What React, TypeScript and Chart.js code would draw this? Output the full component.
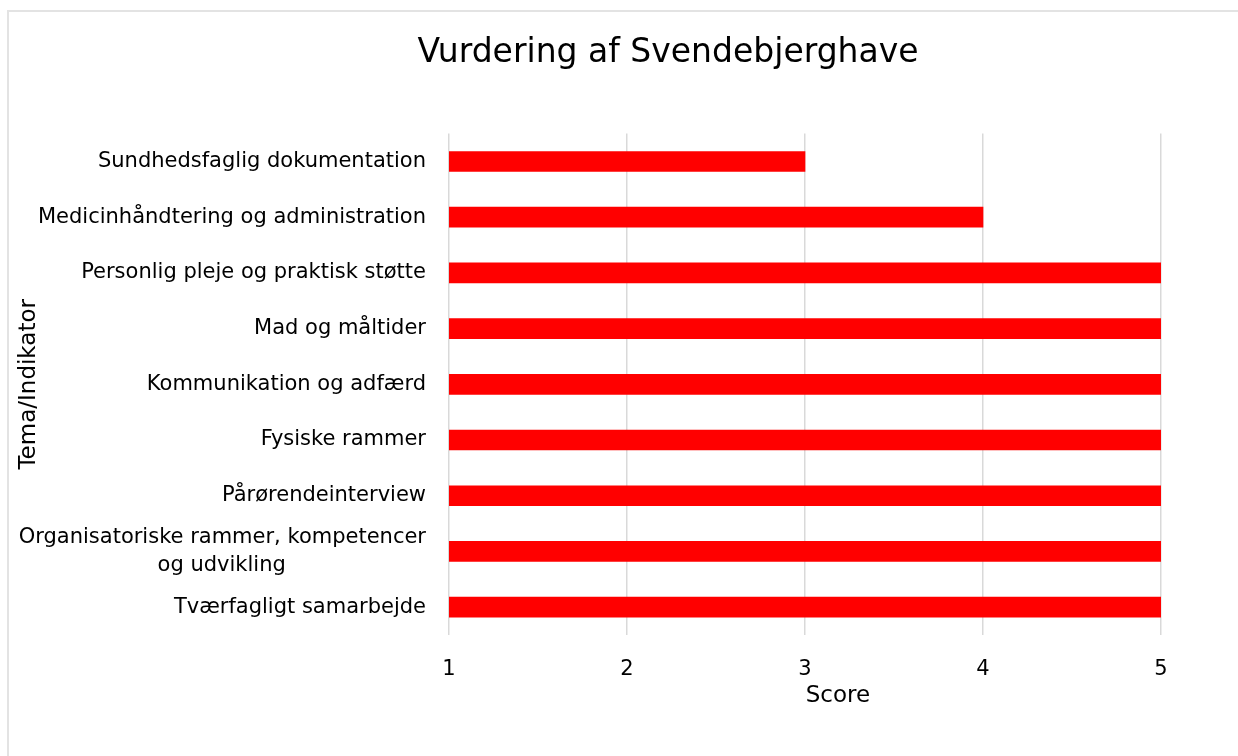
import React, { useEffect, useRef } from "react";
import { Chart, registerables } from "chart.js";

Chart.register(...registerables);

const chartTitle = "Vurdering af Svendebjerghave";
const categories: (string | string[])[] = [
  "Sundhedsfaglig dokumentation",
  "Medicinhåndtering og administration",
  "Personlig pleje og praktisk støtte",
  "Mad og måltider",
  "Kommunikation og adfærd",
  "Fysiske rammer",
  "Pårørendeinterview",
  ["Organisatoriske rammer, kompetencer", "og udvikling" + " ".repeat(21)],
  "Tværfagligt samarbejde",
];
const scores = [3, 4, 5, 5, 5, 5, 5, 5, 5];
const xTicks = [1, 2, 3, 4, 5];
const xTitle = " ".repeat(9) + "Score";
const yTitle = "Tema/Indikator";

const FONT = "'DejaVu Sans', sans-serif";
const W = 1318;
const H = 744;

export default function App() {
  const ref = useRef<HTMLCanvasElement | null>(null);
  useEffect(() => {
    if (!ref.current) return;
    const chart = new Chart(ref.current, {
      type: "bar",
      data: {
        labels: categories,
        datasets: [
          {
            data: scores,
            backgroundColor: "#ff0000",
            borderWidth: 0,
            barThickness: 20,
            yAxisID: "y",
            xAxisID: "x",
          },
        ],
      },
      options: {
        indexAxis: "y",
        responsive: false,
        animation: false,
        devicePixelRatio: 1,
        layout: { padding: 0 },
        plugins: {
          legend: { display: false },
          tooltip: { enabled: false },
          title: {
            display: true,
            text: chartTitle,
            color: "#000",
            font: { family: FONT, size: 33, weight: "normal" },
            padding: { top: 22, bottom: 60 },
          },
        },
        scales: {
          x: {
            type: "linear",
            position: "bottom",
            min: 1,
            max: 5,
            afterBuildTicks: (s: any) => {
              s.ticks = xTicks.map((v) => ({ value: v }));
            },
            afterFit: (s: any) => {
              s.height = 121;
            },
            ticks: {
              color: "#000",
              font: { family: FONT, size: 21 },
              padding: 22,
            },
            grid: { color: "#d9d9d9", lineWidth: 1.5, drawTicks: false },
            border: { display: false },
            title: {
              display: true,
              text: xTitle,
              color: "#000",
              font: { family: FONT, size: 23 },
              padding: { top: 0, bottom: 46 },
            },
          },
          y: {
            type: "category",
            position: "left",
            ticks: {
              color: "#000",
              font: { family: FONT, size: 21, lineHeight: 1.3 },
              padding: 23,
              autoSkip: false,
            },
            grid: { display: false, drawTicks: false },
            border: { display: false },
            afterFit: (s: any) => {
              s.width = 440;
            },
            title: {
              display: true,
              text: yTitle,
              color: "#000",
              font: { family: FONT, size: 23 },
              padding: { top: 6, bottom: 0 },
            },
          },
          yRight: {
            type: "linear",
            axis: "y",
            position: "right",
            display: true,
            ticks: { display: false },
            grid: { display: false, drawTicks: false },
            border: { display: false },
            afterFit: (s: any) => {
              s.width = 166;
            },
          },
        },
      },
    });
    return () => chart.destroy();
  }, []);

  return (
    <div
      style={{
        position: "fixed",
        left: 7,
        top: 10,
        width: 1231,
        height: 746,
        overflow: "hidden",
        borderLeft: "2px solid #e3e3e3",
        borderTop: "2px solid #e3e3e3",
        background: "#fff",
      }}
    >
      <canvas ref={ref} width={W} height={H} style={{ display: "block", width: W, height: H }} />
    </div>
  );
}
